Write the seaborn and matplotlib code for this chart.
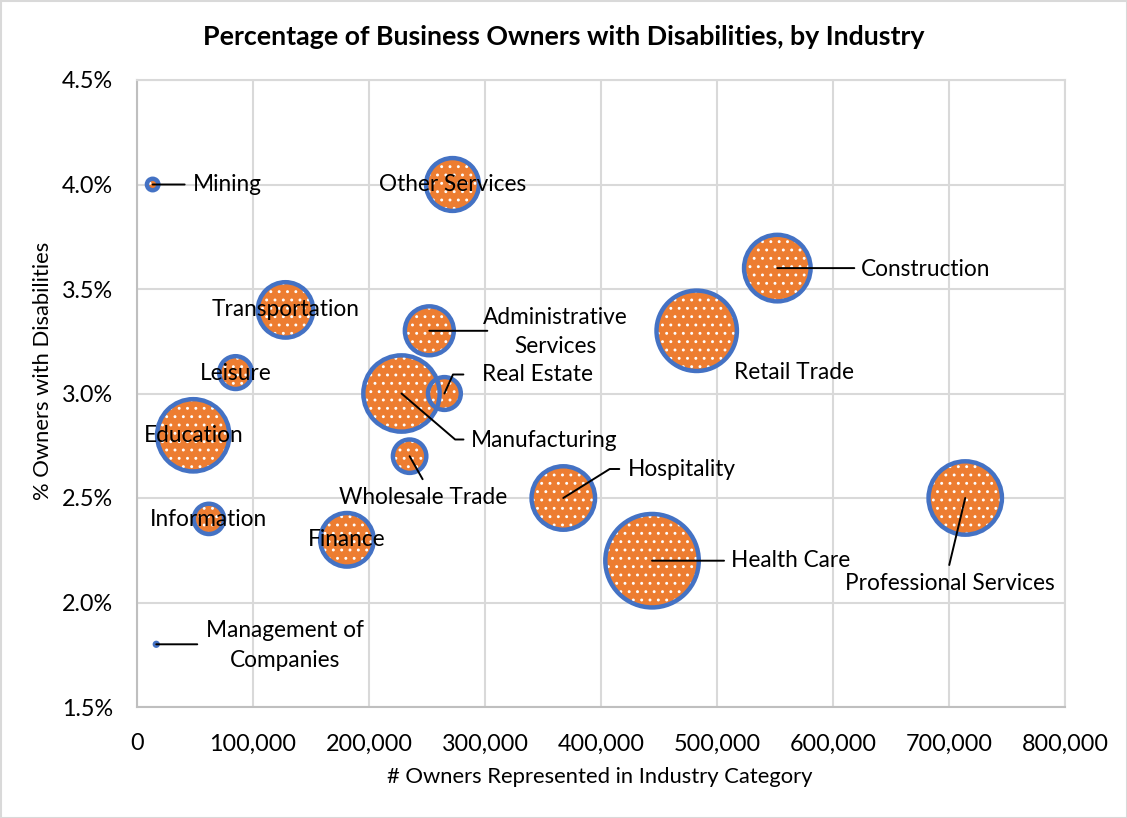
import numpy as np
import pandas as pd
import matplotlib
matplotlib.use("Agg")
import matplotlib.pyplot as plt
import seaborn as sns
from matplotlib.ticker import FuncFormatter, MultipleLocator
from matplotlib.patches import Rectangle

# ---------------- data ----------------
industries = ["Mining", "Management of\nCompanies", "Other Services", "Transportation",
              "Leisure", "Education", "Information", "Finance",
              "Administrative\nServices", "Real Estate", "Manufacturing",
              "Wholesale Trade", "Hospitality", "Health Care",
              "Professional Services", "Construction", "Retail Trade"]
owners = [13500, 16600, 272000, 128000, 85000, 48500, 62000, 181000,
          252000, 265000, 228000, 235000, 367500, 444000, 714000, 552000, 482500]
pct_disabled = [4.0, 1.8, 4.0, 3.4, 3.1, 2.8, 2.4, 2.3,
                3.3, 3.0, 3.0, 2.7, 2.5, 2.2, 2.5, 3.6, 3.3]
bubble_size = [0.33, 0.02, 7.0, 7.7, 2.7, 13.1, 2.3, 7.2,
               6.0, 2.7, 14.6, 2.8, 10.1, 21.9, 13.5, 11.1, 16.2]

x_ticks = [0, 100000, 200000, 300000, 400000, 500000, 600000, 700000, 800000]
y_ticks = [1.5, 2.0, 2.5, 3.0, 3.5, 4.0, 4.5]

# label layout: (text dx px, text dy px (down +), ha, leader)
# leader: None or (end dx, end dy, angle of segment at bubble or None)
label_layout = {
    "Mining": (40, 0, "left", (32, 0, None)),
    "Management of\nCompanies": (129, 1, "center", (41, 0, None)),
    "Other Services": (0, 0, "center", None),
    "Transportation": (0, 0, "center", None),
    "Leisure": (0, 1, "center", None),
    "Education": (0, 0, "center", None),
    "Information": (0, 1, "center", None),
    "Finance": (0, 0, "center", None),
    "Administrative\nServices": (126, 1, "center", (58, 0, None)),
    "Real Estate": (38, -19, "left", (19, -19, 65.7)),
    "Manufacturing": (69, 47, "left", (62, 46, -40.6)),
    "Wholesale Trade": (14, 41, "center", (13, 23, None)),
    "Hospitality": (65, -29, "left", (56, -29, 32)),
    "Health Care": (79, 0, "left", (72, 0, None)),
    "Professional Services": (-15, 86, "center", (-16, 67, None)),
    "Construction": (84, 1, "left", (77, 0, None)),
    "Retail Trade": (37, 42, "left", None),
}

df = pd.DataFrame({"industry": industries, "owners": owners,
                   "pct": pct_disabled, "size": bubble_size})

ORANGE = "#ED7D31"
BLUE = "#4472C4"
GRID = "#D9D9D9"
FONT = "Lato"
PX = 0.72  # points per pixel at dpi=100

sns.set_theme(style="white")
plt.rcParams["font.family"] = [FONT, "DejaVu Sans"]
plt.rcParams["hatch.linewidth"] = 0.9

fig = plt.figure(figsize=(11.27, 8.18), dpi=100)
ax = fig.add_axes([137 / 1127, 1 - 707 / 818, (1065 - 137) / 1127, (707 - 80) / 818])

S_MAX = 4530
sns.scatterplot(data=df, x="owners", y="pct", size="size", sizes=(0, S_MAX),
                size_norm=(0, max(bubble_size)), legend=False, color=ORANGE,
                edgecolor="white", linewidth=0, hatch="..", ax=ax, zorder=3)
coll = ax.collections[0]
ax.scatter(df["owners"], df["pct"], s=coll.get_sizes(), facecolors="none",
           edgecolors=BLUE, linewidths=3.2, zorder=4)

LABEL_FS = 16.3
for name, xv, yv in zip(industries, owners, pct_disabled):
    tdx, tdy, ha, leader = label_layout[name]
    if leader is not None:
        ldx, ldy, ang = leader
        cs = "arc3,rad=0" if ang is None else f"angle,angleA=0,angleB={ang},rad=0"
        ax.annotate("", xy=(xv, yv), xytext=(ldx * PX, -ldy * PX),
                    textcoords="offset points",
                    arrowprops=dict(arrowstyle="-", color="black", lw=1.4,
                                    shrinkA=0, shrinkB=0, connectionstyle=cs),
                    zorder=5)
    ax.annotate(name, xy=(xv, yv), xytext=(tdx * PX, -tdy * PX),
                textcoords="offset points", ha=ha, va="center",
                multialignment="center", fontsize=LABEL_FS, color="black",
                linespacing=1.5, zorder=6)

ax.set_xlim(0, 800000)
ax.set_ylim(1.5, 4.5)
ax.set_xticks(x_ticks)
ax.set_yticks(y_ticks)
ax.xaxis.set_major_formatter(FuncFormatter(lambda v, p: f"{v:,.0f}"))
ax.yaxis.set_major_formatter(FuncFormatter(lambda v, p: f"{v:.1f}%"))
ax.tick_params(axis="both", length=0, labelsize=16.8, labelcolor="black")
ax.tick_params(axis="x", pad=19)
ax.tick_params(axis="y", pad=17)
ax.grid(True, color=GRID, linewidth=1.5, zorder=0)
ax.set_axisbelow(True)
for side, sp in ax.spines.items():
    sp.set_color(GRID if side in ("top", "right") else "#BFBFBF")
    sp.set_linewidth(1.5)

ax.set_xlabel("")
ax.set_ylabel("")
fig.text(600 / 1127, 1 - 777 / 818, "# Owners Represented in Industry Category",
         ha="center", va="center", fontsize=15.8, color="black")
fig.text(43 / 1127, 1 - 371 / 818, "% Owners with Disabilities", rotation=90,
         ha="center", va="center", fontsize=15.8, color="black")
fig.text(564 / 1127, 1 - 37 / 818,
         "Percentage of Business Owners with Disabilities, by Industry",
         ha="center", va="center", fontsize=19.3, fontweight="bold", color="black")

fig.patches.append(Rectangle((0.5 / 1127, 0.5 / 818), 1 - 1 / 1127, 1 - 1 / 818,
                             transform=fig.transFigure, fill=False,
                             edgecolor=GRID, linewidth=1.5))

fig.savefig("out.png", dpi=100)
